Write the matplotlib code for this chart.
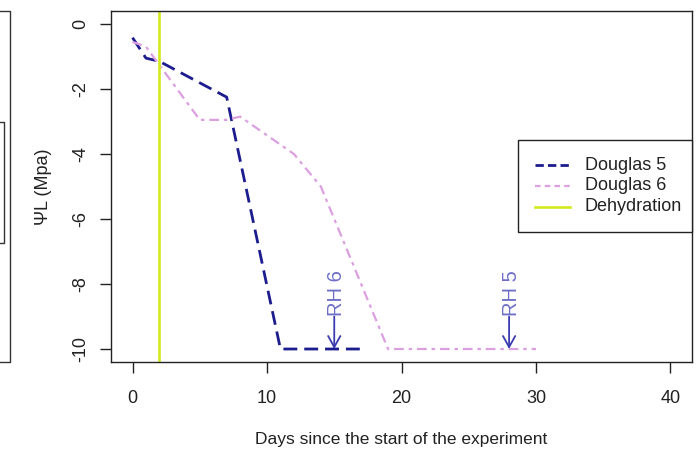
import matplotlib
matplotlib.use("Agg")
import matplotlib.pyplot as plt
from matplotlib.lines import Line2D
from matplotlib.patches import Rectangle

plt.rcParams['font.family'] = ['Liberation Sans', 'DejaVu Sans']
plt.rcParams['lines.scale_dashes'] = False

# ---- data ----
d5_days = [0, 1, 2, 7, 11, 17]
d5_psi = [-0.42, -1.05, -1.15, -2.25, -10, -10]
d6_days = [0, 1, 5, 7, 8, 12, 14, 19, 30]
d6_psi = [-0.55, -0.7, -2.95, -2.95, -2.85, -4.0, -5.0, -10, -10]
dehydration_day = 2
rh_labels = ["RH 6", "RH 5"]
rh_days = [15, 28]
xticks = [0, 10, 20, 30, 40]
yticks = [0, -2, -4, -6, -8, -10]
legend_labels = ["Douglas 5", "Douglas 6", "Dehydration"]

c5 = '#1c1c8f'
c6 = '#dc9fe0'
cdeh = '#d2ea1c'
carrow = '#3b3bb0'
ctext = '#6e6ec8'

W, H = 696, 455
fig = plt.figure(figsize=(W / 100, H / 100), dpi=100)
ax = fig.add_axes([111 / W, 1 - 362 / H, (692 - 111) / W, (362 - 11) / H])

ax.plot(d5_days, d5_psi, color=c5, lw=2.0, linestyle=(0, (10, 5)))
ax.plot(d6_days, d6_psi, color=c6, lw=1.6, linestyle=(0, (7, 3.5, 2.5, 3.5)))
ax.axvline(dehydration_day, color=cdeh, lw=1.9)

for lab, d in zip(rh_labels, rh_days):
    ax.annotate('', xy=(d, -10), xytext=(d, -9.0),
                arrowprops=dict(arrowstyle='->,head_length=0.4,head_width=0.22',
                                color=carrow, lw=1.3, mutation_scale=20,
                                shrinkA=0, shrinkB=0))
    ax.text(d + 0.15, -8.27, lab, rotation=90, ha='center', va='center',
            color=ctext, fontsize=14.5)

ax.set_xlim(-1.6, 41.6)
ax.set_ylim(-10.4, 0.4)
ax.set_xticks(xticks)
ax.set_xticklabels([str(v) for v in xticks], fontsize=13)
ax.set_yticks(yticks)
ax.set_yticklabels([str(v) for v in yticks], fontsize=13, rotation=90, va='center')
ax.tick_params(direction='out', length=8, width=1, colors='#222222', pad=12)
ax.tick_params(axis='y', pad=8)
for s in ax.spines.values():
    s.set_linewidth(1.0)
    s.set_color('#222222')

ax.set_xlabel('Days since the start of the experiment', fontsize=12.5, labelpad=18,
              color='#222222')
ax.set_ylabel('\u03a8L (Mpa)', fontsize=13, labelpad=14, color='#222222')

# ---- legend drawn R-style (box at fixed pixel position) ----
def fx(px):
    return px / W

def fy(py):
    return 1 - py / H

fig.add_artist(Rectangle((fx(518), fy(232)), fx(692) - fx(518), fy(140) - fy(232),
                         transform=fig.transFigure, facecolor='white',
                         edgecolor='#222222', lw=1.0, zorder=5))
leg_styles = [
    dict(color=c5, lw=2.0, linestyle=(0, (6, 3))),
    dict(color=c6, lw=1.6, linestyle=(0, (4, 3))),
    dict(color=cdeh, lw=1.9),
]
row_y = [165, 186, 207]
for lab, st, ry in zip(legend_labels, leg_styles, row_y):
    fig.add_artist(Line2D([fx(535), fx(570)], [fy(ry), fy(ry)],
                          transform=fig.transFigure, zorder=6, **st))
    fig.text(fx(585), fy(ry), lab, ha='left', va='center', fontsize=13,
             color='#222222', zorder=6)

# fragments of the neighbouring panel at the left edge
fig.add_artist(Line2D([0, fx(9.5), fx(9.5), 0], [fy(11), fy(11), fy(362), fy(362)],
                      transform=fig.transFigure, color='#333333', lw=1.0))
fig.add_artist(Line2D([0, fx(3.5), fx(3.5), 0], [fy(122), fy(122), fy(243), fy(243)],
                      transform=fig.transFigure, color='#333333', lw=1.0))

fig.savefig('out.png', dpi=100)
